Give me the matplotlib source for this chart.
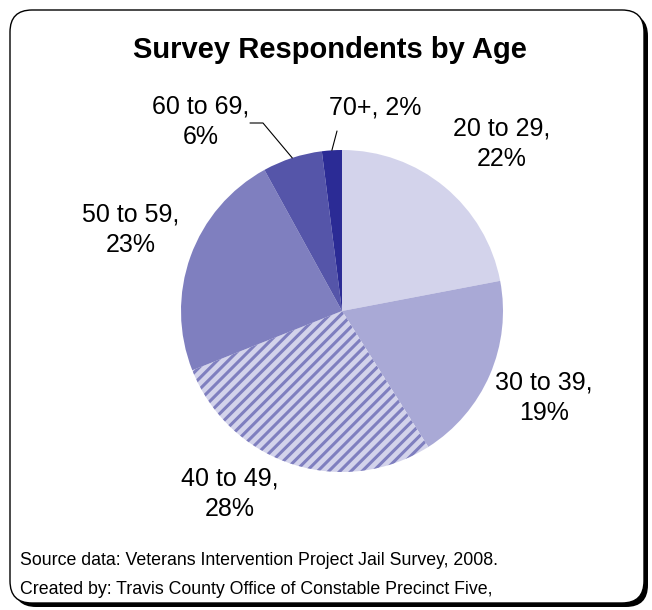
import numpy as np
import matplotlib
matplotlib.use('Agg')
import matplotlib.pyplot as plt
from matplotlib.patches import FancyBboxPatch
from matplotlib.transforms import IdentityTransform

# data
ages = ['20 to 29', '30 to 39', '40 to 49', '50 to 59', '60 to 69', '70+']
shares = [22, 19, 28, 23, 6, 2]
colors = ['#D3D3EB', '#A9A9D6', '#D3D3EB', '#7F7FBF', '#5555A9', '#2B2B95']
hatches = [None, None, '///', None, None, None]

title = 'Survey Respondents by Age'
footer = ['Source data: Veterans Intervention Project Jail Survey, 2008.',
          'Created by: Travis County Office of Constable Precinct Five,']

plt.rcParams['font.family'] = ['Liberation Sans', 'DejaVu Sans']
plt.rcParams['hatch.linewidth'] = 2.2

W, H = 652, 610
fig = plt.figure(figsize=(W / 100, H / 100), dpi=100)

# rounded frame with shadow (pixel coords)
shadow = FancyBboxPatch((14, 3), 634, 593, boxstyle='round,pad=0,rounding_size=22',
                        transform=IdentityTransform(), facecolor='black',
                        edgecolor='black', lw=0, zorder=-2)
frame = FancyBboxPatch((10, 7), 634, 593, boxstyle='round,pad=0,rounding_size=22',
                       transform=IdentityTransform(), facecolor='white',
                       edgecolor='black', lw=1, zorder=-1)
fig.patches.extend([shadow, frame])

# pie axes: center (342, 311), radius 161 px
cx, cy, r = 342, 311, 161
ax = fig.add_axes([(cx - r) / W, (H - cy - r) / H, 2 * r / W, 2 * r / H])
ax.set_zorder(1)
ax.patch.set_visible(False)
wedges, _ = ax.pie(shares, colors=colors, startangle=90, counterclock=False,
                   wedgeprops=dict(linewidth=0))
for w, h in zip(wedges, hatches):
    if h:
        w.set_hatch(h)
        w.set_edgecolor('#7F7FBF')
ax.set_xlim(-1, 1)
ax.set_ylim(-1, 1)
ax.axis('off')

# labels (pixel centers, y from top)
label_pos = [(502, 144), (544, 398), (230, 494), (131, 230), (201, 122), (375, 107)]
for name, val, (x, y) in zip(ages, shares, label_pos):
    if name == '70+':
        txt = f'{name}, {val}%'
    else:
        txt = f'{name},\n{val}%'
    fig.text(x / W, (H - y) / H, txt, ha='center', va='center',
             fontsize=18, linespacing=1.35)

# leader lines
cum = np.cumsum(shares)
mid = (cum - np.array(shares) / 2) / sum(shares)
ang = np.deg2rad(90 - mid * 360)
ax.annotate('', xy=(np.cos(ang[4]), np.sin(ang[4])), xycoords='data',
            xytext=(250, H - 123), textcoords='figure pixels',
            arrowprops=dict(arrowstyle='-', color='black', lw=0.8,
                            shrinkA=0, shrinkB=0,
                            connectionstyle='angle,angleA=0,angleB=-50,rad=0'))
ax.annotate('', xy=(np.cos(ang[5]), np.sin(ang[5])), xycoords='data',
            xytext=(337, H - 131), textcoords='figure pixels',
            arrowprops=dict(arrowstyle='-', color='black', lw=0.8,
                            shrinkA=0, shrinkB=0))

fig.text(330 / W, (H - 58) / H, title, ha='center', va='baseline',
         fontsize=21, fontweight='bold')
fig.text(20 / W, (H - 565) / H, footer[0], ha='left', va='baseline', fontsize=12.8)
fig.text(20 / W, (H - 594) / H, footer[1], ha='left', va='baseline', fontsize=12.8)

fig.savefig('out.png', dpi=100)
